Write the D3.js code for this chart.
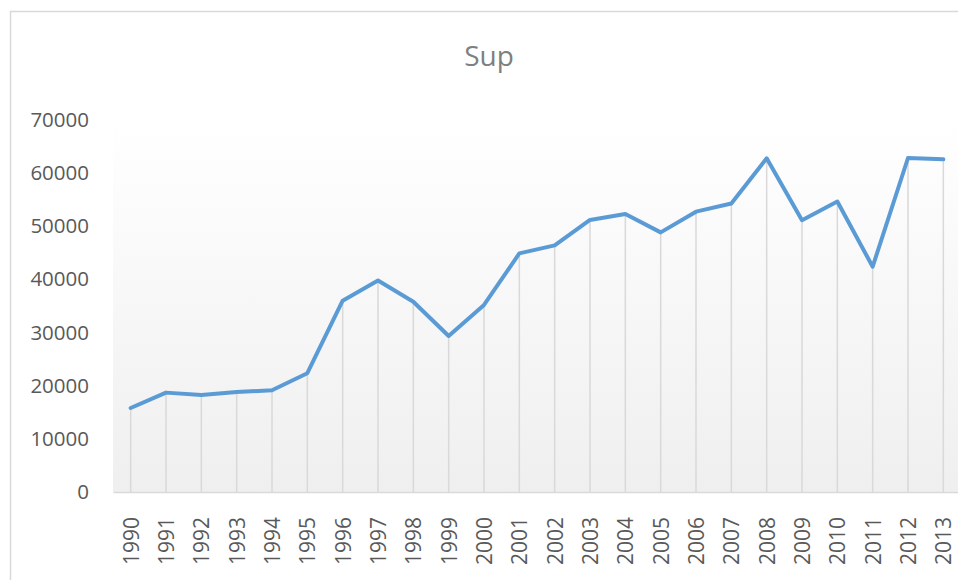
<!DOCTYPE html>
<html>
<head>
<meta charset="utf-8">
<script src="https://cdn.jsdelivr.net/npm/d3@7"></script>
<style>
  body { margin: 0; background: #fff; }
  svg { display: block; font-family: "Open Sans", "Liberation Sans", sans-serif; }
</style>
</head>
<body>
<div id="root"></div>
<script>
// chart data
var years = ["1990","1991","1992","1993","1994","1995","1996","1997","1998","1999","2000","2001",
  "2002","2003","2004","2005","2006","2007","2008","2009","2010","2011","2012","2013"];
var sup = [15800, 18700, 18250, 18800, 19150, 22350, 36000, 39800, 35800, 29350, 35200, 44900,
  46400, 51200, 52300, 48850, 52750, 54300, 62800, 51150, 54650, 42400, 62850, 62600];
var yTicks = [0, 10000, 20000, 30000, 40000, 50000, 60000, 70000];
var title = "Sup";

var W = 958, H = 580;
var margin = { top: 120, right: -3, bottom: 88, left: 113 };

var svg = d3.select("#root").append("svg")
  .attr("width", W)
  .attr("height", H);

// chart border (only top and left are inside the crop)
svg.append("path")
  .attr("d", "M10.5," + H + "V11.5H" + W)
  .attr("fill", "none")
  .attr("stroke", "#d9d9d9")
  .attr("stroke-width", 1.5);

var grad = svg.append("defs").append("linearGradient")
  .attr("id", "plotFill")
  .attr("x1", 0).attr("y1", 0).attr("x2", 0).attr("y2", 1);
grad.append("stop").attr("offset", "0%").attr("stop-color", "#ffffff");
grad.append("stop").attr("offset", "100%").attr("stop-color", "#efefef");

var x = d3.scalePoint()
  .domain(years)
  .range([margin.left, W - margin.right])
  .padding(0.5);

var y = d3.scaleLinear()
  .domain([0, 70000])
  .range([H - margin.bottom, margin.top]);

// plot area background
svg.append("rect")
  .attr("x", margin.left)
  .attr("y", y(70000))
  .attr("width", W - margin.right - margin.left)
  .attr("height", y(0) - y(70000))
  .attr("fill", "url(#plotFill)");

// title
svg.append("text")
  .attr("x", 489)
  .attr("y", 66)
  .attr("text-anchor", "middle")
  .attr("font-size", 28)
  .attr("fill", "#7f7f7f")
  .text(title);

// drop lines
svg.append("g").selectAll("line")
  .data(sup)
  .enter().append("line")
  .attr("x1", function (d, i) { return x(years[i]); })
  .attr("x2", function (d, i) { return x(years[i]); })
  .attr("y1", function (d) { return y(d); })
  .attr("y2", y(0))
  .attr("stroke", "#d9d9d9")
  .attr("stroke-width", 1.5);

// y axis labels
var yAxis = svg.append("g")
  .attr("transform", "translate(89,0)")
  .call(d3.axisLeft(y).tickValues(yTicks).tickSize(0).tickPadding(0).tickFormat(d3.format("d")));
yAxis.select(".domain").remove();
yAxis.selectAll("text")
  .attr("font-size", 20.5)
  .attr("font-family", "'Open Sans', sans-serif")
  .attr("fill", "#595959");

// x axis
var xAxis = svg.append("g")
  .attr("transform", "translate(0," + y(0) + ")")
  .call(d3.axisBottom(x).tickSize(0).tickPadding(0));
xAxis.select(".domain")
  .attr("stroke", "#d9d9d9")
  .attr("stroke-width", 1.5);
xAxis.selectAll("text")
  .attr("font-size", 21)
  .attr("font-family", "'Open Sans', sans-serif")
  .attr("fill", "#595959")
  .attr("text-anchor", "end")
  .attr("y", 0)
  .attr("dy", "0.36em")
  .attr("transform", "translate(0,25) rotate(-90)");

// the line
var line = d3.line()
  .x(function (d, i) { return x(years[i]); })
  .y(function (d) { return y(d); });

svg.append("path")
  .datum(sup)
  .attr("d", line)
  .attr("fill", "none")
  .attr("stroke", "#5b9bd5")
  .attr("stroke-width", 4)
  .attr("stroke-linejoin", "round")
  .attr("stroke-linecap", "round");
</script>
</body>
</html>
